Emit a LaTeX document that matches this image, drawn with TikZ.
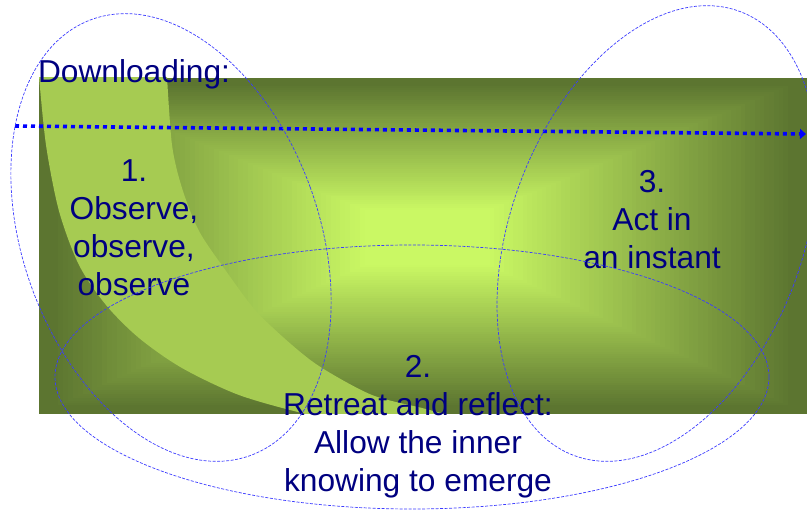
\documentclass[tikz,border=0pt]{standalone}
\usepackage{fontspec}
\setmainfont{Liberation Sans}
\usetikzlibrary{arrows.meta}
\definecolor{gDark}{RGB}{92,117,48}
\definecolor{gLight}{RGB}{202,248,100}
\definecolor{bandGreen}{RGB}{166,203,82}
\definecolor{navyText}{RGB}{0,0,128}
\definecolor{dotBlue}{RGB}{0,0,255}
\definecolor{ellBlue}{RGB}{60,60,255}
\tikzset{
  lbl/.style={text=navyText, inner sep=0pt, outer sep=0pt, align=center, font=\fontsize{31.7}{38}\selectfont},
  ell/.style={draw=ellBlue, line width=0.7pt, dash pattern=on 3pt off 1.5pt},
  dotline/.style={draw=dotBlue, line width=3.6pt, dash pattern=on 4pt off 4pt, -{Triangle[length=6pt,width=10pt]}},
}
\begin{document}
\begin{tikzpicture}[x=1pt,y=-1pt]
\useasboundingbox (0,0) rectangle (807,510);
% background panel with rectangular centre gradient
\foreach \i in {0,...,79}{
  \pgfmathsetmacro\s{1-\i/80}
  \pgfmathtruncatemacro\p{100*min(1,max(0,(0.97-\s)/0.8))}
  \fill[fill=gLight!\p!gDark] ({428-\s*389},{236-\s*158}) rectangle ({428+\s*379},{236+\s*178});
}
% light crescent band
\begin{scope}
  \clip (39,78) rectangle (807,414);
  \fill[bandGreen] plot[smooth] coordinates {(39,76) (46,145) (59,211) (79,265) (106,305) (139,338) (182,368) (239,395) (306,414) (360,424)}
    -- (460,424) -- plot[smooth] coordinates {(452,416) (422,408) (372,395) (322,368) (292,345) (256,311) (226,271) (199,231) (182,188) (172,145) (167,76)} -- cycle;
\end{scope}
% dotted arrow
\coordinate (arrS) at (15,126);
\coordinate (arrE) at (806,134);
\draw[dotline] (arrS) -- (arrE);
% texts
\node[lbl, anchor=base west] (dl) at (38,83) {Downloading:};
\node[lbl, anchor=north] (t1) at (134,159.3) {1.\\Observe,\\observe,\\observe};
\node[lbl, anchor=north] (t2) at (418,355.3) {2.\\Retreat and reflect:\\Allow the inner\\knowing to emerge};
\node[lbl, anchor=north] (t3) at (652,170.3) {3.\\Act in\\an instant};
% dashed ellipses
\draw[ell, rotate around={20:(171,237.5)}] (171,237.5) ellipse [x radius=148, y radius=232];
\draw[ell] (412,377) ellipse [x radius=357, y radius=132];
\draw[ell, rotate around={-20.5:(657,233.5)}] (657,233.5) ellipse [x radius=146, y radius=237];
\end{tikzpicture}
\end{document}
